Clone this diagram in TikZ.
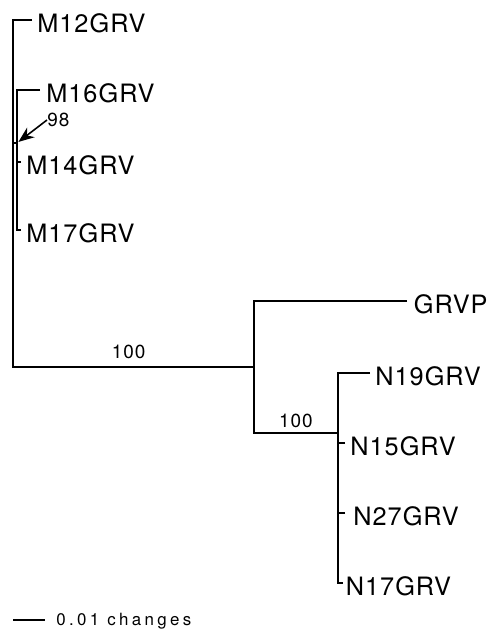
\documentclass[tikz,border=0pt]{standalone}
\usepackage{fontspec}
\setmainfont{TeX Gyre Heros}
\newfontfamily\taxonfont[LetterSpace=4]{TeX Gyre Heros}
\newfontfamily\supportfont[LetterSpace=5]{TeX Gyre Heros}
\newfontfamily\scalefont[LetterSpace=20]{TeX Gyre Heros}
\usetikzlibrary{positioning, arrows.meta}
\tikzset{
    branch/.style={line width=1.1pt},
    taxon/.style={inner sep=0pt, yshift=-0.07cm, font=\taxonfont\fontsize{14.4}{16}\selectfont},
    support/.style={inner sep=0pt, font=\supportfont\fontsize{10.8}{12}\selectfont},
    scaletext/.style={inner sep=0pt, font=\scalefont\fontsize{9.6}{11}\selectfont},
}
\begin{document}
\begin{tikzpicture}[x=0.02cm, y=-0.02cm]
    \useasboundingbox (0,0) rectangle (490,633);

    % inner vertices
    \coordinate (root) at (13,367);
    \coordinate (mx) at (17,143);
    \coordinate (nx) at (254,367);
    \coordinate (ny) at (338,433);

    % tips
    \coordinate (m12) at (32,20);
    \coordinate (m16) at (40,90);
    \coordinate (m14) at (21,162);
    \coordinate (m17) at (21,230);
    \coordinate (grvp) at (407,301);
    \coordinate (n19) at (370,373);
    \coordinate (n15) at (345,443);
    \coordinate (n27) at (345,513);
    \coordinate (n17) at (343,583);

    % branches
    \draw[branch] (m12) -| (root) -- node[support, pos=0.48, above=0.15cm] {100} (nx);
    \draw[branch] (mx) -- (mx -| root);
    \draw[branch] (m16) -| (mx) |- (m17);
    \draw[branch] (m14) -- (m14 -| mx);
    \draw[branch] (grvp) -| (nx) |- node[support, pos=0.75, above=0.09cm] {100} (ny);
    \draw[branch] (n19) -| (ny) |- (n17);
    \draw[branch] (n15) -- (n15 -| ny);
    \draw[branch] (n27) -- (n27 -| ny);

    % taxa
    \node[taxon, right=0.1cm of m12] (tm12) {M12GRV};
    \node[taxon, right=0.12cm of m16] (tm16) {M16GRV};
    \node[taxon, right=0.1cm of m14] (tm14) {M14GRV};
    \node[taxon, right=0.1cm of m17] (tm17) {M17GRV};
    \node[taxon, right=0.13cm of grvp] (tgrvp) {GRVP};
    \node[taxon, right=0.1cm of n19] (tn19) {N19GRV};
    \node[taxon, right=0.1cm of n15] (tn15) {N15GRV};
    \node[taxon, right=0.16cm of n27] (tn27) {N27GRV};
    \node[taxon, right=0.05cm of n17] (tn17) {N17GRV};

    % bootstrap arrow
    \node[support, anchor=west] (b98) at (47,120) {98};
    \draw[line width=0.9pt, -{Stealth[length=9pt, width=7pt]}, shorten >=1pt] (b98.west) -- (mx);

    % scale bar
    \coordinate (sa) at (13,620);
    \coordinate (sb) at (45,620);
    \draw[branch] (sa) -- (sb);
    \node[scaletext, right=0.22cm of sb, yshift=-0.03cm] (sl) {0.01 changes};
\end{tikzpicture}
\end{document}
